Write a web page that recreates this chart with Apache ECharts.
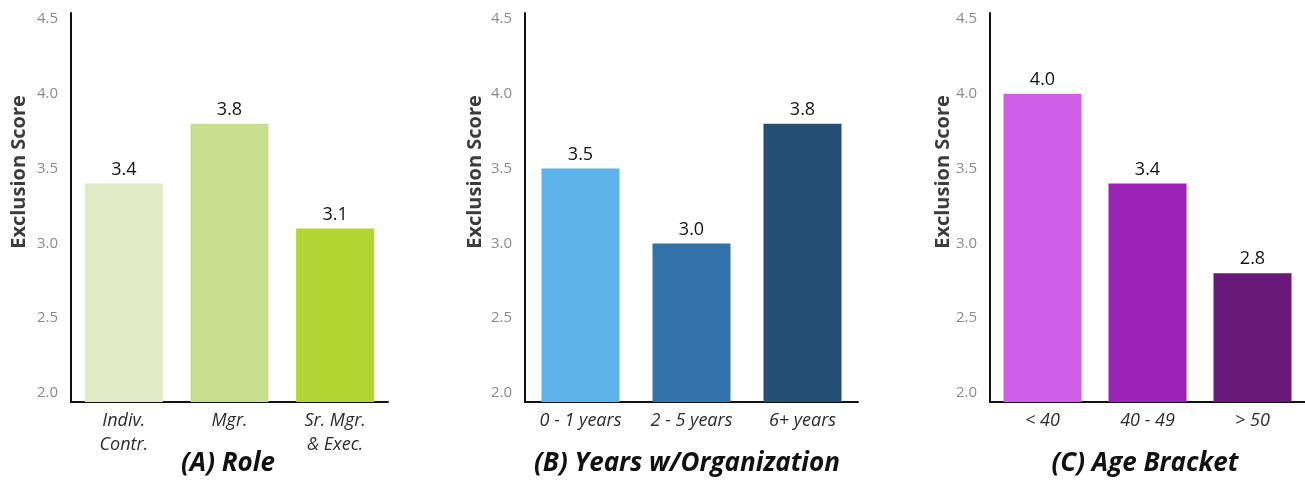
<!DOCTYPE html>
<html>
<head>
<meta charset="utf-8">
<title>Exclusion Score by Role, Tenure and Age</title>
<script src="https://cdn.jsdelivr.net/npm/echarts@6/dist/echarts.min.js"></script>
<style>
  html, body { margin: 0; padding: 0; background: #ffffff; }
  #chart { width: 1305px; height: 481px; }
</style>
</head>
<body>
<div id="chart"></div>
<script>
// Panel A: role
const roleCategories = ['Indiv.\nContr.', 'Mgr.', 'Sr. Mgr.\n& Exec.'];
const roleScores = [3.4, 3.8, 3.1];
const roleColors = ['#e0eac6', '#c9dd8f', '#b1d531'];

// Panel B: years with organization
const tenureCategories = ['0 - 1 years', '2 - 5 years', '6+ years'];
const tenureScores = [3.5, 3.0, 3.8];
const tenureColors = ['#5db2ea', '#3271a9', '#234e75'];

// Panel C: age bracket
const ageCategories = ['< 40', '40 - 49', '> 50'];
const ageScores = [4.0, 3.4, 2.8];
const ageColors = ['#d05fe8', '#9a22b6', '#691a79'];

const yTickValues = [2.0, 2.5, 3.0, 3.5, 4.0, 4.5];
const yAxisTitle = 'Exclusion Score';
const panelTitles = ['(A) Role', '(B) Years w/Organization', '(C) Age Bracket'];

const panels = [
  { cats: roleCategories, vals: roleScores, colors: roleColors,
    grid: { left: 71, top: 13, width: 317, height: 389 }, titleX: 228, yTitleX: 19 },
  { cats: tenureCategories, vals: tenureScores, colors: tenureColors,
    grid: { left: 525, top: 13, width: 333, height: 389 }, titleX: 687, yTitleX: 475 },
  { cats: ageCategories, vals: ageScores, colors: ageColors,
    grid: { left: 990, top: 13, width: 317, height: 389 }, titleX: 1145, yTitleX: 943 }
];

const axisLineStyle = { show: true, lineStyle: { color: '#111111', width: 2 } };

const option = {
  animation: false,
  backgroundColor: '#ffffff',
  grid: panels.map(p => Object.assign({ containLabel: false }, p.grid)),
  xAxis: panels.map((p, i) => ({
    type: 'category',
    gridIndex: i,
    data: p.cats,
    axisLine: axisLineStyle,
    axisTick: { show: false },
    splitLine: { show: false },
    axisLabel: {
      margin: 7,
      fontFamily: 'Open Sans',
      fontStyle: 'italic',
      fontSize: 18,
      lineHeight: 24,
      color: '#2b2b2b'
    }
  })),
  yAxis: panels.map((p, i) => ({
    type: 'value',
    gridIndex: i,
    min: 1.94,
    max: 4.54,
    axisLine: axisLineStyle,
    axisTick: { show: false },
    splitLine: { show: false },
    axisLabel: {
      customValues: yTickValues,
      margin: 13,
      fontFamily: 'Open Sans',
      fontSize: 15,
      color: '#8a8a8a',
      formatter: v => v.toFixed(1)
    }
  })),
  series: panels.map((p, i) => ({
    type: 'bar',
    xAxisIndex: i,
    yAxisIndex: i,
    barWidth: 78,
    data: p.vals.map((v, j) => ({ value: v, itemStyle: { color: p.colors[j] } })),
    label: {
      show: true,
      position: 'top',
      distance: 5,
      fontFamily: 'Open Sans',
      fontSize: 18,
      color: '#111111',
      formatter: d => d.value.toFixed(1)
    }
  })),
  graphic: panels.flatMap((p, i) => [
    {
      type: 'text',
      x: p.yTitleX,
      y: 172,
      rotation: Math.PI / 2,
      style: {
        text: yAxisTitle,
        fontFamily: 'Open Sans',
        fontWeight: 'bold',
        fontSize: 20,
        fill: '#3c3c3c',
        textAlign: 'center',
        textVerticalAlign: 'middle'
      }
    },
    {
      type: 'text',
      x: p.titleX,
      y: 464,
      style: {
        text: panelTitles[i],
        fontFamily: 'Open Sans',
        fontWeight: 'bold',
        fontStyle: 'italic',
        fontSize: 26,
        fill: '#111111',
        textAlign: 'center',
        textVerticalAlign: 'middle'
      }
    }
  ])
};

const chart = echarts.init(document.getElementById('chart'), null, { renderer: 'canvas' });
chart.setOption(option);
</script>
</body>
</html>
